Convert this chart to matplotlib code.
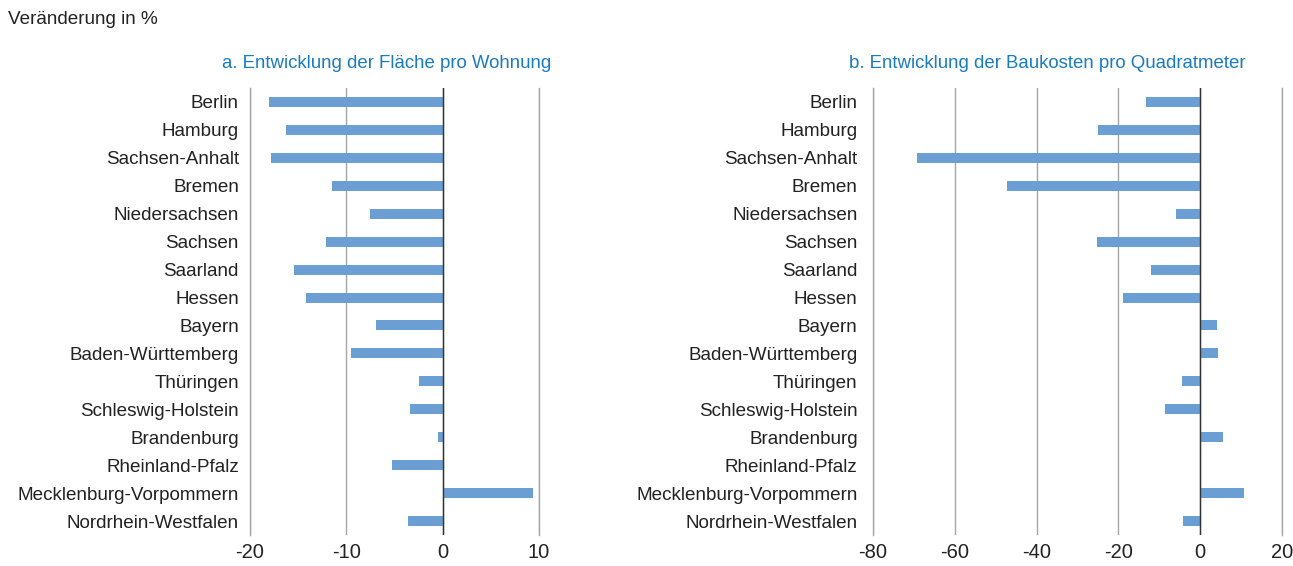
import matplotlib.pyplot as plt

plt.rcParams["font.family"] = ["Liberation Sans", "DejaVu Sans"]

# ── Data ─────────────────────────────────────────────────────────────────────
LAENDER = [
    "Berlin", "Hamburg", "Sachsen-Anhalt", "Bremen", "Niedersachsen",
    "Sachsen", "Saarland", "Hessen", "Bayern", "Baden-Württemberg",
    "Thüringen", "Schleswig-Holstein", "Brandenburg", "Rheinland-Pfalz",
    "Mecklenburg-Vorpommern", "Nordrhein-Westfalen",
]

# a. Entwicklung der Fläche pro Wohnung (Veränderung in %)
FLAECHE = [-18.0, -16.3, -17.8, -11.5, -7.5, -12.1, -15.4, -14.2,
           -6.9, -9.5, -2.5, -3.4, -0.5, -5.3, 9.4, -3.6]

# b. Entwicklung der Baukosten pro Quadratmeter (Veränderung in %)
BAUKOSTEN = [-13.3, -25.1, -69.2, -47.2, -6.0, -25.3, -12.0, -18.9,
             4.2, 4.4, -4.5, -8.6, 5.5, 0.3, 10.7, -4.2]

TICKS_A = [-20, -10, 0, 10]
TICKS_B = [-80, -60, -40, -20, 0, 20]

# ── Style ────────────────────────────────────────────────────────────────────
BAR_COLOR = "#6b9fd4"
TITLE_COLOR = "#1a7bbf"
GRID_COLOR = "#a6a6a6"
TEXT_COLOR = "#222222"
W, H = 1293, 566


def draw_panel(ax, values, ticks, label_pad):
    y = list(range(len(LAENDER)))
    ax.barh(y, values, height=0.36, color=BAR_COLOR, zorder=3)
    ax.set_xlim(ticks[0], ticks[-1])
    ax.set_ylim(len(LAENDER) - 0.5, -0.5)
    ax.set_yticks(y)
    ax.set_yticklabels(LAENDER, fontsize=13.6, color=TEXT_COLOR)
    ax.set_xticks(ticks)
    ax.set_xticklabels([str(t) for t in ticks], fontsize=14.5, color=TEXT_COLOR)
    ax.tick_params(axis="y", length=0, pad=label_pad)
    ax.tick_params(axis="x", length=0, pad=6)
    for s in ["top", "bottom"]:
        ax.spines[s].set_visible(False)
    for s in ["left", "right"]:
        ax.spines[s].set_color(GRID_COLOR)
        ax.spines[s].set_linewidth(1.0)
    ax.grid(axis="x", color=GRID_COLOR, linewidth=1.0, zorder=0)
    ax.axvline(0, color="#333333", linewidth=1.0, zorder=4)


fig = plt.figure(figsize=(W / 100, H / 100), dpi=100)

top, bottom = 88, 535
ax_a = fig.add_axes([250 / W, 1 - bottom / H, (539 - 250) / W, (bottom - top) / H])
ax_b = fig.add_axes([873 / W, 1 - bottom / H, (1282 - 873) / W, (bottom - top) / H])

draw_panel(ax_a, FLAECHE, TICKS_A, 8)
draw_panel(ax_b, BAUKOSTEN, TICKS_B, 11)

fig.text(8 / W, 1 - 20 / H, "Veränderung in %", fontsize=13.6,
         color=TEXT_COLOR, va="center", ha="left")
fig.text(387 / W, 1 - 64 / H, "a. Entwicklung der Fläche pro Wohnung",
         fontsize=13.4, color=TITLE_COLOR, va="center", ha="center")
fig.text(1047 / W, 1 - 64 / H, "b. Entwicklung der Baukosten pro Quadratmeter",
         fontsize=13.4, color=TITLE_COLOR, va="center", ha="center")

fig.savefig("out.png", dpi=100)
